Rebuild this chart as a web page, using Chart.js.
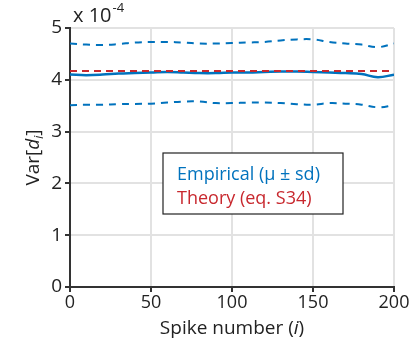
<!DOCTYPE html>
<html><head><meta charset="utf-8">
<script src="https://cdn.jsdelivr.net/npm/chart.js@4"></script>
<style>html,body{margin:0;padding:0;background:#fff}#w{width:413px;height:343px}</style>
</head><body><div id="w"><canvas id="c" width="413" height="343"></canvas></div>
<script>
const spikes = [0,10,20,30,40,50,60,70,80,90,100,110,120,130,140,150,160,170,180,190,200];
const meanVals = [4.10,4.09,4.10,4.12,4.13,4.14,4.15,4.14,4.13,4.13,4.14,4.14,4.15,4.16,4.16,4.15,4.14,4.13,4.11,4.05,4.10];
const upperVals = [4.70,4.68,4.67,4.69,4.72,4.73,4.73,4.72,4.70,4.70,4.71,4.72,4.73,4.76,4.78,4.78,4.73,4.70,4.68,4.63,4.70];
const lowerVals = [3.51,3.52,3.52,3.53,3.535,3.54,3.56,3.58,3.58,3.55,3.55,3.56,3.56,3.55,3.53,3.52,3.55,3.54,3.52,3.47,3.51];
const theoryVal = 4.17;
const yTicks = [0,1,2,3,4,5];
const xTicks = [0,50,100,150,200];
const legendLabels = ['Empirical (\u03bc \u00b1 sd)', 'Theory (eq. S34)'];

const BLUE = '#0072BD', RED = '#C8282E';
const FONT = '"Open Sans", "Noto Sans", sans-serif';
const pts = a => spikes.map((x,i)=>({x, y:a[i]}));

const overlay = {
  id:'overlay',
  afterDraw(chart){
    const ctx = chart.ctx, ca = chart.chartArea;
    ctx.save();
    ctx.fillStyle = '#222';
    ctx.textBaseline = 'alphabetic';
    const FS = 19;
    // x title
    ctx.font = FS+'px ' + FONT;
    const p1 = 'Spike number (', p2 = 'i', p3 = ')';
    const w1 = ctx.measureText(p1).width;
    ctx.font = 'italic '+FS+'px ' + FONT; const w2 = ctx.measureText(p2).width;
    ctx.font = FS+'px ' + FONT; const w3 = ctx.measureText(p3).width;
    let x = (ca.left+ca.right)/2 - (w1+w2+w3)/2, y = 334;
    ctx.textAlign='left';
    ctx.fillText(p1,x,y); ctx.font='italic '+FS+'px '+FONT; ctx.fillText(p2,x+w1,y);
    ctx.font=FS+'px '+FONT; ctx.fillText(p3,x+w1+w2,y);
    // y title
    ctx.save();
    ctx.translate(39, (ca.top+ca.bottom)/2);
    ctx.rotate(-Math.PI/2);
    ctx.font=FS+'px '+FONT; const a1='Var[', a3=']';
    const aw1=ctx.measureText(a1).width;
    ctx.font='italic '+FS+'px '+FONT; const aw2=ctx.measureText('d').width;
    ctx.font='italic 12px '+FONT; const aw4=ctx.measureText('i').width;
    ctx.font=FS+'px '+FONT; const aw3=ctx.measureText(a3).width;
    let sx = -(aw1+aw2+aw4+aw3)/2;
    ctx.fillText(a1,sx,0); sx+=aw1;
    ctx.font='italic '+FS+'px '+FONT; ctx.fillText('d',sx,0); sx+=aw2;
    ctx.font='italic 12px '+FONT; ctx.fillText('i',sx,4); sx+=aw4;
    ctx.font=FS+'px '+FONT; ctx.fillText(a3,sx,0);
    ctx.restore();
    // exponent
    ctx.font='20px '+FONT;
    ctx.fillText('x 10',73,22);
    const ew=ctx.measureText('x 10').width;
    ctx.font='13px '+FONT;
    ctx.fillText('-4',73+ew+1,12);
    // legend box
    const bx=163, by=153, bw=180, bh=61;
    ctx.fillStyle='#fff'; ctx.fillRect(bx,by,bw,bh);
    ctx.strokeStyle='#222'; ctx.lineWidth=1.2; ctx.strokeRect(bx,by,bw,bh);
    ctx.font='18px '+FONT; ctx.textAlign='left';
    ctx.fillStyle=BLUE; ctx.fillText(legendLabels[0],bx+14,by+27);
    ctx.fillStyle=RED; ctx.fillText(legendLabels[1],bx+14,by+51);
    ctx.restore();
  }
};

new Chart(document.getElementById('c'), {
  type:'line',
  data:{datasets:[
    {data:pts(upperVals), borderColor:BLUE, borderWidth:2, borderDash:[7,6], pointRadius:0, tension:0.4, fill:false},
    {data:pts(lowerVals), borderColor:BLUE, borderWidth:2, borderDash:[7,6], pointRadius:0, tension:0.4, fill:false},
    {data:[{x:0,y:theoryVal},{x:200,y:theoryVal}], borderColor:RED, borderWidth:2, borderDash:[7,5], pointRadius:0, fill:false},
    {data:pts(meanVals), borderColor:BLUE, borderWidth:2.5, pointRadius:0, tension:0.4, fill:false}
  ]},
  options:{
    responsive:false, animation:false, devicePixelRatio:1,
    layout:{padding:{left:0,right:19,top:28,bottom:0}},
    plugins:{legend:{display:false}, tooltip:{enabled:false}},
    scales:{
      x:{type:'linear', min:0, max:200,
        afterFit(s){s.height=56;},
        afterBuildTicks(s){s.ticks=xTicks.map(v=>({value:v}));},
        grid:{color:'#e2e2e2', lineWidth:2, tickLength:5, tickColor:'#333', drawOnChartArea:true},
        border:{color:'#333', width:2},
        ticks:{color:'#222', font:{family:FONT,size:18}, padding:0, maxRotation:0}
      },
      y:{min:0, max:5,
        afterFit(s){s.width=70;},
        afterBuildTicks(s){s.ticks=yTicks.map(v=>({value:v}));},
        grid:{color:'#e2e2e2', lineWidth:2, tickLength:5, tickColor:'#333'},
        border:{color:'#333', width:2},
        ticks:{color:'#222', font:{family:FONT,size:19}, padding:3}
      }
    }
  },
  plugins:[overlay]
});
</script></body></html>
